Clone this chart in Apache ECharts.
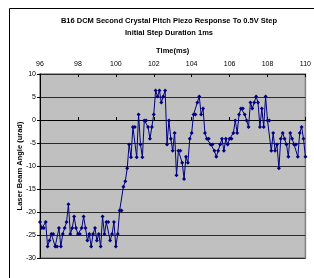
<!DOCTYPE html>
<html>
<head>
<meta http-equiv="Content-Type" content="text/html; charset=UTF-8">
<title>Piezo Response</title>
<script type="text/javascript" src="https://cdn.jsdelivr.net/npm/echarts@6/dist/echarts.min.js"></script>
<style>
  html, body { margin: 0; padding: 0; background: #fff; }
</style>
</head>
<body>
    <div id="main" style="width: 314px; height: 278px;"></div>
    <script type="text/javascript">
        // time axis: 96 to 110 ms, one sample every 0.1 ms
        var tStart = 96;
        var tStep = 0.1;
        // laser beam angle (urad)
        var angle = [
            -22.2, -23.5, -23.5, -22.2, -27.5, -26.2, -24.8, -24.8, -27.5, -27.5,
            -23.5, -27.5, -24.8, -23.5, -22.2, -18.3, -24.8, -23.5, -21.0, -23.5,
            -24.8, -24.8, -23.5, -21.0, -23.5, -26.2, -24.8, -27.5, -24.8, -23.5,
            -26.2, -24.8, -27.5, -21.0, -24.8, -22.2, -22.2, -26.2, -24.8, -22.2,
            -27.5, -24.8, -19.7, -19.7, -14.5, -13.3, -10.5, -5.3, -8.1, -1.5,
            -1.5, -8.1, 1.2, -5.3, -8.1, -0.1, -0.1, -1.5, -4.1, -1.5,
            1.2, 6.4, 5.1, 6.4, 3.8, 5.1, 6.4, -5.3, -0.1, -4.1,
            -6.7, -2.8, -12.0, -6.7, -6.7, -9.3, -12.8, -8.0, -9.3, -4.1,
            -2.8, 1.2, 1.2, 3.8, 5.1, 1.2, 2.5, -2.8, -4.1, -4.1,
            -5.3, -5.3, -6.7, -8.0, -6.7, -5.3, -4.1, -6.7, -4.1, -5.3,
            -4.1, -4.1, -2.8, -0.1, -2.8, 1.2, 2.5, 2.5, 1.2, -0.1,
            -1.5, 3.8, 2.5, 3.8, 5.1, 3.8, -1.5, 2.5, -1.5, 5.1,
            -0.1, -0.1, -6.7, -2.8, -6.7, -5.3, -10.5, -4.1, -2.8, -4.1,
            -5.3, -8.0, -2.8, -4.1, -5.3, -5.3, -8.0, -2.8, -1.5, -4.1,
            -8.0
        ];
        var xTicks = [96, 98, 100, 102, 104, 106, 108, 110];
        var yTicks = [-30, -25, -20, -15, -10, -5, 0, 5, 10];

        var points = [];
        for (var i = 0; i < angle.length; i++) {
            points.push([+(tStart + i * tStep).toFixed(1), angle[i]]);
        }

        var font = 'Liberation Sans, Arial, sans-serif';
        var myChart = echarts.init(document.getElementById('main'));
        myChart.setOption({
            animation: false,
            title: {
                text: 'B16 DCM Second Crystal Pitch Piezo Response To 0.5V Step\nInitial Step Duration 1ms',
                left: 164,
                top: 10,
                textAlign: 'center',
                textStyle: { fontFamily: font, fontSize: 7.5, fontWeight: 'bold', color: '#000', lineHeight: 12 }
            },
            graphic: [{
                type: 'rect',
                shape: { x: 9.5, y: 8.5, width: 400, height: 400 },
                style: { fill: 'none', stroke: '#000', lineWidth: 1 },
                z: -1
            }],
            grid: {
                left: 40, top: 74, right: 4, bottom: 20,
                show: true,
                backgroundColor: '#c0c0c0',
                borderColor: '#808080',
                borderWidth: 1.5
            },
            xAxis: [{
                type: 'value',
                position: 'top',
                min: xTicks[0],
                max: xTicks[xTicks.length - 1],
                interval: 2,
                name: 'Time(ms)',
                nameLocation: 'middle',
                nameGap: 19,
                nameMoveOverlap: false,
                nameTextStyle: { fontFamily: font, fontSize: 7.5, fontWeight: 'bold', color: '#000' },
                axisLine: { show: true, lineStyle: { color: '#000', width: 1 } },
                axisTick: { show: true, length: 3, lineStyle: { color: '#000' } },
                axisLabel: { fontFamily: font, fontSize: 7, color: '#000', margin: 6 },
                splitLine: { show: false }
            }, {
                type: 'value',
                position: 'top',
                min: xTicks[0],
                max: xTicks[xTicks.length - 1],
                interval: 2,
                axisLine: { show: false },
                axisTick: { show: true, inside: true, length: 3, lineStyle: { color: '#000' } },
                axisLabel: { show: false },
                splitLine: { show: false }
            }],
            yAxis: {
                type: 'value',
                min: yTicks[0],
                max: yTicks[yTicks.length - 1],
                interval: 5,
                name: 'Laser Beam Angle (urad)',
                nameLocation: 'middle',
                nameGap: 16,
                nameMoveOverlap: false,
                nameTextStyle: { fontFamily: font, fontSize: 7.5, fontWeight: 'bold', color: '#000' },
                axisLine: { show: true, lineStyle: { color: '#000', width: 1 } },
                axisTick: { show: true, length: 3, lineStyle: { color: '#000' } },
                axisLabel: { fontFamily: font, fontSize: 7, color: '#000', margin: 4 },
                splitLine: { show: true, lineStyle: { color: '#2a2a2a', width: 1 } }
            },
            series: [{
                type: 'line',
                xAxisIndex: 0,
                data: points,
                symbol: 'diamond',
                symbolSize: 4,
                showSymbol: true,
                itemStyle: { color: '#000080' },
                lineStyle: { color: '#000080', width: 1 }
            }]
        });
    </script>
</body>
</html>
